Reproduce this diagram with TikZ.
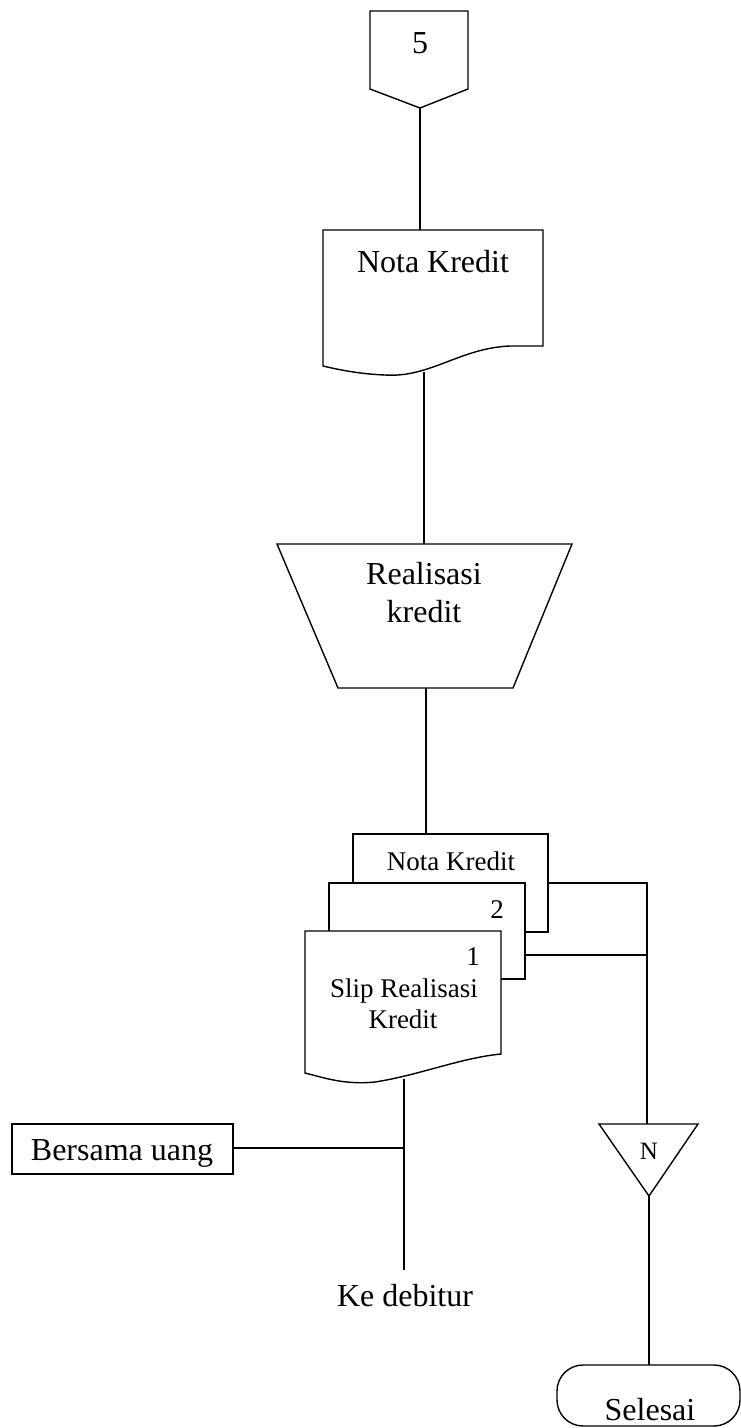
\documentclass[tikz,border=0pt]{standalone}
\usepackage{fontspec}
\setmainfont{Liberation Serif}
\tikzset{
	line/.style={-, black, line width=1.4pt},
	page/.style={line, fill=white},
	bigtext/.style={anchor=base, font=\fontsize{32}{38}\selectfont},
	smalltext/.style={anchor=base, font=\fontsize{27}{32}\selectfont}
}
\begin{document}
\begin{tikzpicture}[x=1pt, y=-1pt]
			\useasboundingbox (0, 0) rectangle (741, 1428);

			\draw[line]	(370, 11) -- (468, 11) -- (468, 89) -- (420, 108) -- (370, 89) -- cycle;
			\node[bigtext] (five) at (420, 53) {5};
			\coordinate (fivetip) at (420, 108);

			\draw[page]	(323, 230) -- (543, 230) -- (543, 346) -- (510, 346)
								.. controls (460, 348) and (430, 378) .. (385, 375)
								.. controls (360, 374) and (340, 370) .. (323, 366) -- cycle;
			\node[bigtext] (notakredit) at (433, 272) {Nota Kredit};
			\coordinate (doctop) at (420, 230);
			\coordinate (docbottom) at (424, 372);

			\draw[page]	(277, 544) -- (572, 544) -- (513, 688) -- (338, 688) -- cycle;
			\node[bigtext] (realisasi) at (424, 584) {Realisasi};
			\node[bigtext] (kredit) at (424, 622) {kredit};
			\coordinate (traptop) at (424, 544);
			\coordinate (trapbottom) at (426, 688);

			\draw[page]	(353, 834) rectangle (548, 932);
			\draw[page]	(329, 883) rectangle (525, 979);
			\draw[page]	(305, 931) -- (501, 931) -- (501, 1054)
								.. controls (460, 1058) and (420, 1075) .. (375, 1082)
								.. controls (345, 1085) and (325, 1078) .. (305, 1073) -- cycle;
			\node[smalltext] (notastack) at (451, 870) {Nota Kredit};
			\node[smalltext] (copytwo) at (497, 918) {2};
			\node[smalltext] (copyone) at (473, 965) {1};
			\node[smalltext] (slip) at (404, 997) {Slip Realisasi};
			\node[smalltext] (slipkredit) at (403, 1028) {Kredit};
			\coordinate (stacktop) at (426, 834);
			\coordinate (stackbottom) at (404, 1079);
			\coordinate (pageA) at (548, 883);
			\coordinate (pageB) at (525, 955);
			\coordinate (cornerA) at (647, 883);
			\coordinate (cornerB) at (647, 955);

			\draw[line]	(12, 1124) rectangle (233, 1174);
			\node[bigtext] (bersama) at (122, 1160) {Bersama uang};
			\coordinate (bersamaright) at (233, 1148);
			\coordinate (join) at (404, 1148);
			\coordinate (debiturend) at (404, 1270);
			\node[bigtext] (debitur) at (405, 1306) {Ke debitur};

			\draw[line]	(599, 1124) -- (698, 1124) -- (649, 1196) -- cycle;
			\node[anchor=base, font=\fontsize{25}{30}\selectfont] (arsip) at (649, 1159) {N};
			\coordinate (arsiptop) at (647, 1124);
			\coordinate (arsiptip) at (649, 1196);

			\draw[line, rounded corners=26pt]	(557, 1365) rectangle (740, 1426);
			\node[bigtext] (selesai) at (650, 1420) {Selesai};
			\coordinate (selesaitop) at (649, 1365);

			\draw[line]	(fivetip) -- (doctop)
								(docbottom) -- (traptop)
								(trapbottom) -- (stacktop)
								(pageA) -- (cornerA) -- (arsiptop)
								(pageB) -- (cornerB)
								(stackbottom) -- (debiturend)
								(bersamaright) -- (join)
								(arsiptip) -- (selesaitop);
\end{tikzpicture}
\end{document}
